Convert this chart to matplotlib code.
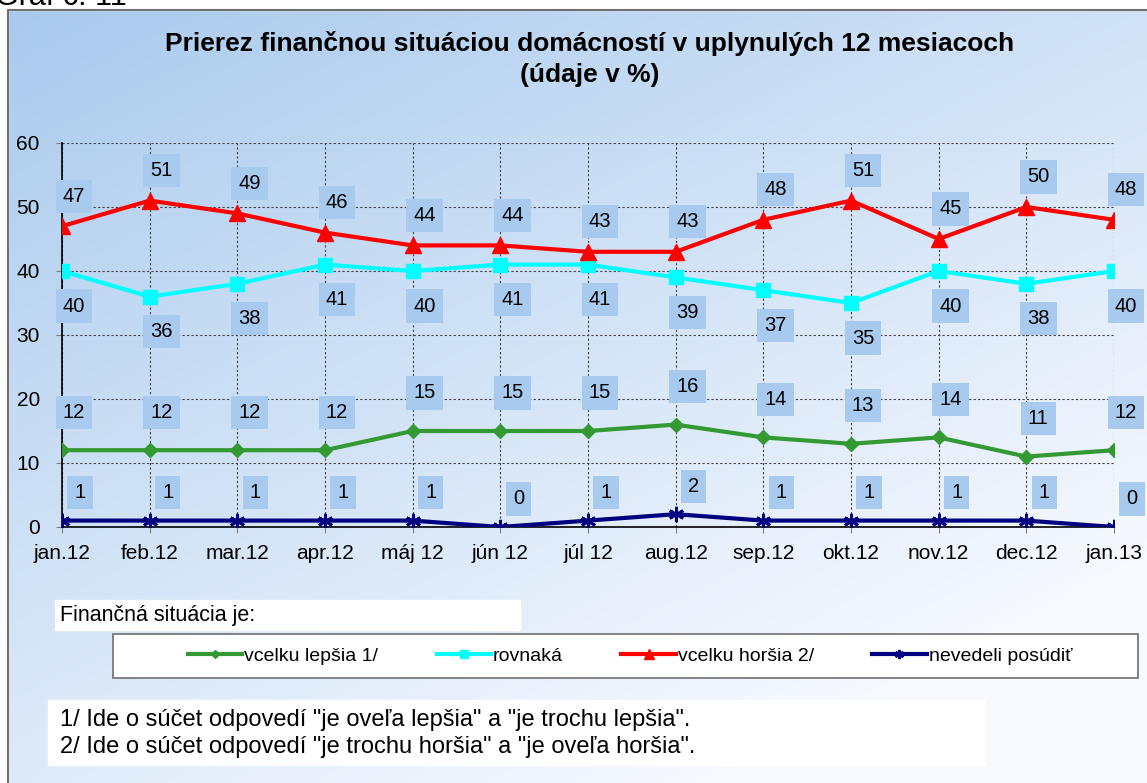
import numpy as np
import matplotlib.pyplot as plt
from matplotlib.patches import Rectangle

plt.rcParams['font.family'] = ['Liberation Sans', 'DejaVu Sans']

months = ['jan.12', 'feb.12', 'mar.12', 'apr.12', 'máj 12', 'jún 12', 'júl 12',
          'aug.12', 'sep.12', 'okt.12', 'nov.12', 'dec.12', 'jan.13']
lepsia = [12, 12, 12, 12, 15, 15, 15, 16, 14, 13, 14, 11, 12]
rovnaka = [40, 36, 38, 41, 40, 41, 41, 39, 37, 35, 40, 38, 40]
horsia = [47, 51, 49, 46, 44, 44, 43, 43, 48, 51, 45, 50, 48]
nevedeli = [1, 1, 1, 1, 1, 0, 1, 2, 1, 1, 1, 1, 0]
yticks = [0, 10, 20, 30, 40, 50, 60]

W, H = 1147, 783
fig = plt.figure(figsize=(W / 100, H / 100), dpi=100)

# gradient background
bg = fig.add_axes([0, 0, 1, 1], zorder=-10)
yy, xx = np.mgrid[0:1:200j, 0:1:300j]
t = np.clip((xx * 0.55 + yy * 0.75) / 1.1, 0, 1)
c0 = np.array([0.66, 0.79, 0.93])
c1 = np.array([0.97, 0.98, 1.0])
img = c0[None, None, :] * (1 - t[..., None]) + c1[None, None, :] * t[..., None]
bg.imshow(img, aspect='auto', extent=[0, 1, 0, 1], origin='upper')
bg.set_xlim(0, 1)
bg.set_ylim(0, 1)
bg.axis('off')
# white strip above frame
bg.add_patch(Rectangle((0, 1 - 10 / H), 1, 1, color='white', zorder=2))
bg.add_patch(Rectangle((0, 0), 8 / W, 1, color='white', zorder=2))
bg.plot([8 / W, 8 / W, 1], [0, 1 - 10 / H, 1 - 10 / H], color='#707070', lw=1.5, zorder=3)

fig.text(-0.004, 1 - 5 / H, 'Graf č. 11', fontsize=22, va='baseline', ha='left')

ax = fig.add_axes([62 / W, 1 - 527 / H, (1114 - 62) / W, (527 - 143) / H])
ax.set_facecolor('none')
x = np.arange(len(months))

ax.plot(x, lepsia, color='#339933', lw=3, marker='D', ms=7, zorder=3, label='vcelku lepšia 1/')
ax.plot(x, rovnaka, color='#00ffff', lw=3, marker='s', ms=10, zorder=3, label='rovnaká')
ax.plot(x, horsia, color='#ff0000', lw=3, marker='^', ms=11, zorder=3, label='vcelku horšia 2/')
ax.plot(x, nevedeli, color='#000080', lw=3, marker=(6, 2, 0), ms=11, mew=2, zorder=3,
        label='nevedeli posúdiť')

box = dict(boxstyle='square,pad=0.35', fc='#a8caef', ec='none')
for vals, off in [(horsia, (12, 30)), (rovnaka, (12, -35)), (lepsia, (12, 38)), (nevedeli, (18, 28))]:
    for xi, v in zip(x, vals):
        ax.annotate(str(v), (xi, v), xytext=off, textcoords='offset pixels',
                    ha='center', va='center', fontsize=14.5, bbox=box,
                    annotation_clip=False, zorder=4)

ax.set_xlim(0, len(months) - 1)
ax.set_ylim(0, 60)
ax.set_yticks(yticks)
ax.set_xticks(x)
ax.set_xticklabels(months)
ax.tick_params(labelsize=15, length=4, color='#808080')
ax.tick_params(axis='x', pad=8)
ax.tick_params(axis='y', pad=12)
ax.grid(True, color='#404040', lw=0.8, linestyle=(0, (2, 2)))
for s in ['top', 'right']:
    ax.spines[s].set_visible(False)
ax.spines['left'].set_linewidth(1.2)
ax.spines['bottom'].set_linewidth(1.2)

fig.text(590 / W, 1 - 43 / H, 'Prierez finančnou situáciou domácností v uplynulých 12 mesiacoch',
         ha='center', va='center', fontsize=19, fontweight='bold')
fig.text(590 / W, 1 - 75 / H, '(údaje v %)', ha='center', va='center', fontsize=19, fontweight='bold')

# legend area
bg.add_patch(Rectangle((55 / W, 1 - 630 / H), 465 / W, 30 / H, color='white', zorder=4))
fig.text(60 / W, 1 - 616 / H, 'Finančná situácia je:', fontsize=15.5, va='center')
bg.add_patch(Rectangle((113 / W, 1 - 678 / H), 1025 / W, 44 / H, fc='white', ec='#707070',
                       lw=1.2, zorder=4))
leg = fig.legend(loc='center', bbox_to_anchor=(630 / W, 1 - 656 / H), ncol=4, frameon=False,
                 fontsize=14, handlelength=2.8, handletextpad=0.1, columnspacing=3.0,
                 markerscale=0.6)

bg.add_patch(Rectangle((48 / W, 1 - 765 / H), 937 / W, 65 / H, color='white', zorder=4))
fig.text(60 / W, 1 - 720 / H, '1/ Ide o súčet odpovedí "je oveľa lepšia" a "je trochu lepšia".',
         fontsize=17, va='center')
fig.text(60 / W, 1 - 747 / H, '2/ Ide o súčet odpovedí "je trochu horšia" a "je oveľa horšia".',
         fontsize=17, va='center')

fig.savefig('out.png', dpi=100)
